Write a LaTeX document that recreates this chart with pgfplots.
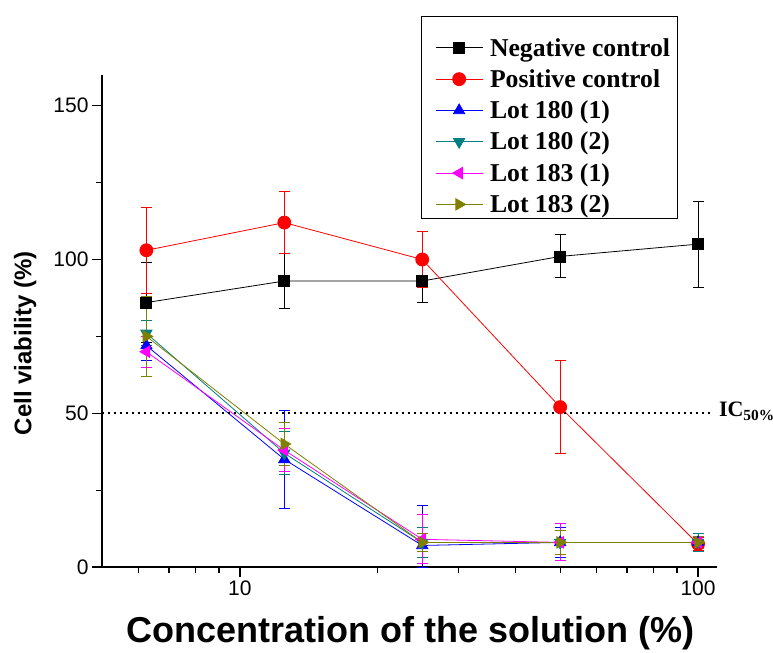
\documentclass[border=0pt]{standalone}
\usepackage{fontspec}
\setmainfont{Liberation Serif}
\setsansfont{Liberation Sans}
\usepackage{pgfplots}
\pgfplotsset{compat=1.18}
\definecolor{Teal}{HTML}{008080}
\definecolor{Olive}{HTML}{808000}
\definecolor{LotBlue}{HTML}{0000FF}
\definecolor{Magenta}{HTML}{FF00FF}

\begin{document}
\begin{tikzpicture}
\useasboundingbox (-102bp,-86bp) rectangle (671bp,567bp);
\begin{axis}[
  at={(0,0)}, anchor=south west,
  width=615bp, height=492bp, scale only axis,
  xmode=log, xmin=5, xmax=110, ymin=0, ymax=160,
  xtick={10,100}, xticklabels={10,100},
  minor xtick={6,7,8,9,20,30,40,50,60,70,80,90},
  ytick={0,50,100,150}, minor ytick={25,75,125},
  axis lines=left, axis line style={-, line width=1.3bp},
  tick align=outside, tick style={black, line width=1.2bp},
  major tick length=10bp, minor tick length=6bp,
  /pgf/number format/assume math mode=true,
  tick label style={font=\sffamily\fontsize{21bp}{24bp}\selectfont},
  xlabel={Concentration of the solution (\%)},
  ylabel={Cell viability (\%)},
  xlabel style={font=\sffamily\bfseries\fontsize{36bp}{40bp}\selectfont, at={(axis description cs:0.502,-0.134)}, anchor=center},
  ylabel style={font=\sffamily\bfseries\fontsize{24bp}{28bp}\selectfont, at={(axis description cs:-0.125,0.455)}, anchor=center},
  clip=false,
  every axis plot/.append style={line width=0.8bp},
  error bars/error bar style={line width=1bp},
  error bars/error mark options={rotate=90, mark size=5.5bp, line width=1bp},
  legend image code/.code={\draw[mark repeat=2,mark phase=2,#1] plot coordinates {(0bp,0bp)(23.5bp,0bp)(47bp,0bp)};},
  legend style={at={(0.5285,1.0915)}, anchor=north west, draw=none, fill=none,
    font=\bfseries\fontsize{25.7bp}{30bp}\selectfont, inner xsep=8bp, inner ysep=6bp,
    row sep=8bp, column sep=5bp, cells={anchor=west}},
  legend cell align=left,
]
\draw[line width=0.8bp] (axis description cs:0.5187,1.1199) rectangle (axis description cs:0.935,0.7093);
\addplot[black, mark=square*, mark size=5.5bp, error bars/.cd, y dir=both, y explicit]
  table[x=x, y=y, y error=e] {
x y e
6.25 86 13
12.5 93 9
25 93 7
50 101 7
100 105 14
};
\addlegendentry{Negative control}
\addplot[red, mark=*, mark size=6.5bp, error bars/.cd, y dir=both, y explicit]
  table[x=x, y=y, y error=e] {
x y e
6.25 103 14
12.5 112 10
25 100 9
50 52 15
100 7.5 2
};
\addlegendentry{Positive control}
\addplot[LotBlue, mark=triangle*, mark size=6.5bp, error bars/.cd, y dir=both, y explicit]
  table[x=x, y=y, y error plus=ep, y error minus=em] {
x y ep em
6.25 72 5 5
12.5 35 16 16
25 7 13 7
50 8 5 5
100 8 3 3
};
\addlegendentry{Lot 180 (1)}
\addplot[Teal, mark=triangle*, mark size=6.5bp, mark options={rotate=180}, error bars/.cd, y dir=both, y explicit]
  table[x=x, y=y, y error=e] {
x y e
6.25 76 4
12.5 37 7
25 8 5
50 8 4
100 8 3
};
\addlegendentry{Lot 180 (2)}
\addplot[Magenta, mark=triangle*, mark size=6.5bp, mark options={rotate=90}, error bars/.cd, y dir=both, y explicit]
  table[x=x, y=y, y error=e] {
x y e
6.25 70 5
12.5 38 7
25 9 8
50 8 6
100 8 2
};
\addlegendentry{Lot 183 (1)}
\addplot[Olive, mark=triangle*, mark size=6.5bp, mark options={rotate=-90}, error bars/.cd, y dir=both, y explicit]
  table[x=x, y=y, y error=e] {
x y e
6.25 75 13
12.5 40 7
25 8 3
50 8 4
100 8 2
};
\addlegendentry{Lot 183 (2)}
\addplot[black, line width=1.5bp, dash pattern=on 1.5bp off 4.5bp, forget plot] coordinates {(5,50) (106.5,50)};
\node[anchor=base west, inner sep=0pt, font=\bfseries\fontsize{22bp}{26bp}\selectfont] at (axis cs:111,48.8) {IC\textsubscript{50\%}};
\end{axis}
\end{tikzpicture}
\end{document}
